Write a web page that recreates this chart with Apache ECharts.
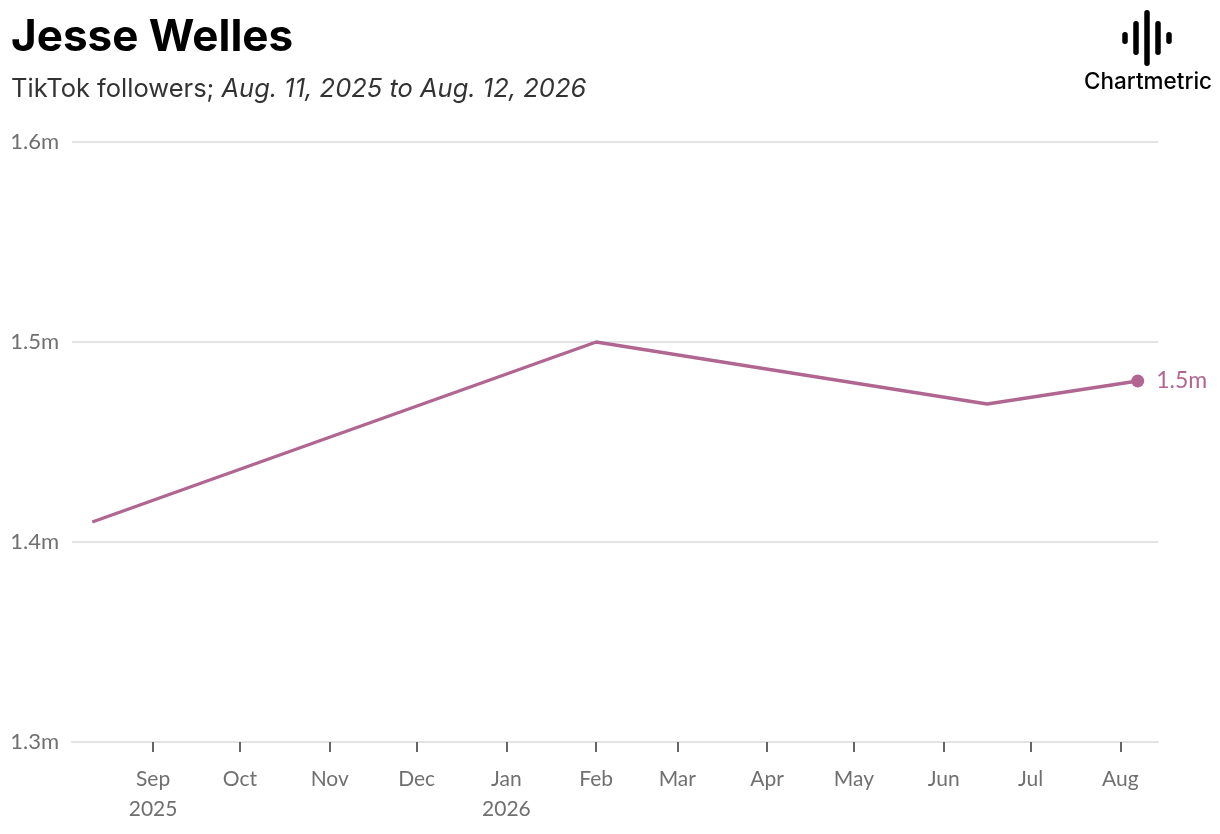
<!DOCTYPE html>
<html>
<head>
<meta charset="utf-8">
<script src="https://cdn.jsdelivr.net/npm/echarts@6/dist/echarts.min.js"></script>
<style>
  html, body { margin: 0; padding: 0; background: #fff; }
  #chart { width: 1220px; height: 834px; }
</style>
</head>
<body>
<div id="chart"></div>
<script>
// data
var dates = ['2025-08-11', '2026-02-01', '2026-06-16', '2026-08-07'];
var followers = [1410000, 1500000, 1469000, 1480500];
var tickMonths = ['2025-09-01', '2025-10-01', '2025-11-01', '2025-12-01', '2026-01-01', '2026-02-01',
    '2026-03-01', '2026-04-01', '2026-05-01', '2026-06-01', '2026-07-01', '2026-08-01'];
var monthNames = ['Jan', 'Feb', 'Mar', 'Apr', 'May', 'Jun', 'Jul', 'Aug', 'Sep', 'Oct', 'Nov', 'Dec'];
var yTicks = [1300000, 1400000, 1500000, 1600000];

var lineColor = '#b06690';
var axisFont = 'Lato, "Noto Sans", sans-serif';

function toTime(s) {
    var p = s.split('-');
    return new Date(+p[0], p[1] - 1, +p[2]).getTime();
}

var seriesData = dates.map(function (d, i) { return [toTime(d), followers[i]]; });
var last = seriesData[seriesData.length - 1];
var tickValues = tickMonths.map(toTime);

// logo bars (sound wave mark)
function bar(cx, top, h) {
    return { type: 'rect', shape: { x: cx - 2.75, y: top, width: 5.5, height: h, r: 2.75 }, style: { fill: '#000' } };
}

var chart = echarts.init(document.getElementById('chart'));

chart.setOption({
    backgroundColor: '#fff',
    animation: false,
    title: [{
        text: 'Jesse Welles',
        left: 11,
        top: 16,
        padding: 0,
        textStyle: { fontFamily: 'Inter', fontWeight: 'bold', fontSize: 44, color: '#000' }
    }, {
        text: '{n|TikTok followers; }{i|Aug. 11, 2025 to Aug. 12, 2026}',
        left: 11,
        top: 76,
        padding: 0,
        textStyle: {
            fontWeight: 'normal',
            rich: {
                n: { fontFamily: 'Inter', fontSize: 25.5, fontWeight: 'normal', color: '#333' },
                i: { fontFamily: 'Inter', fontSize: 25.5, fontWeight: 'normal', fontStyle: 'italic', color: '#333' }
            }
        }
    }],
    graphic: [
        bar(1125, 32, 12),
        bar(1136, 21, 34),
        bar(1147, 10, 56),
        bar(1158, 21, 34),
        bar(1169, 32, 12),
        {
            type: 'text', left: 1084, top: 71,
            style: { text: 'Chartmetric', fontFamily: 'Inter', fontSize: 22.5, fontWeight: 500, fill: '#000' }
        }
    ],
    grid: { left: 72, right: 62, top: 142, bottom: 92, containLabel: false },
    xAxis: {
        type: 'value',
        min: toTime('2025-08-04'),
        max: toTime('2026-08-14'),
        axisLine: { show: true, onZero: false, lineStyle: { color: '#e3e3e3', width: 2 } },
        axisTick: {
            show: true, length: 10, inside: false,
            customValues: tickValues,
            lineStyle: { color: '#666', width: 2 }
        },
        splitLine: { show: false },
        axisLabel: {
            customValues: tickValues,
            margin: 22,
            fontFamily: axisFont,
            fontSize: 21,
            lineHeight: 30,
            color: '#707070',
            formatter: function (v) {
                var d = new Date(v);
                var s = monthNames[d.getMonth()];
                if (d.getMonth() === 0 || v === tickValues[0]) s += '\n' + d.getFullYear();
                return s;
            }
        }
    },
    yAxis: {
        type: 'value',
        min: yTicks[0],
        max: yTicks[yTicks.length - 1],
        interval: 100000,
        axisLine: { show: false },
        axisTick: { show: false },
        splitLine: { show: true, lineStyle: { color: '#e3e3e3', width: 2 } },
        axisLabel: {
            margin: 13,
            fontFamily: axisFont,
            fontSize: 22,
            color: '#707070',
            formatter: function (v) { return (v / 1e6).toFixed(1) + 'm'; }
        }
    },
    series: [{
        type: 'line',
        data: seriesData,
        showSymbol: false,
        lineStyle: { color: lineColor, width: 3.3 },
        itemStyle: { color: lineColor },
        silent: true,
        z: 3
    }, {
        type: 'scatter',
        data: [last],
        symbolSize: 13,
        itemStyle: { color: lineColor, opacity: 1 },
        label: {
            show: true,
            position: 'right',
            distance: 12,
            fontFamily: axisFont,
            fontSize: 23,
            color: lineColor,
            formatter: function (p) { return (p.value[1] / 1e6).toFixed(1) + 'm'; }
        },
        silent: true,
        z: 4
    }]
});
</script>
</body>
</html>
